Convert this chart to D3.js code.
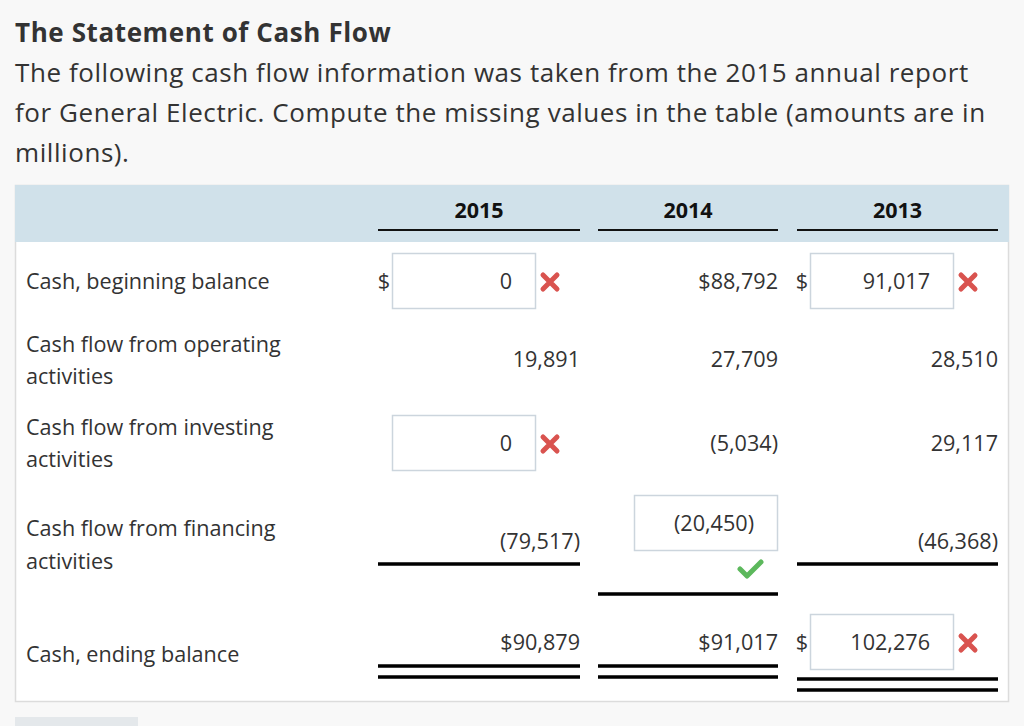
<!DOCTYPE html>
<html>
<head>
<meta charset="utf-8">
<script src="https://cdn.jsdelivr.net/npm/d3@7"></script>
<style>
  html, body { margin: 0; padding: 0; background: #f8f8f8; }
  svg { display: block; }
  text { font-family: "Open Sans", "Noto Sans", sans-serif; }
</style>
</head>
<body>
<svg id="chart" width="1024" height="726"></svg>
<script>
// ---- data ----
const title = "The Statement of Cash Flow";
const introLines = [
  "The following cash flow information was taken from the 2015 annual report",
  "for General Electric. Compute the missing values in the table (amounts are in",
  "millions)."
];
const years = ["2015", "2014", "2013"];
const rowLabels = [
  ["Cash, beginning balance"],
  ["Cash flow from operating", "activities"],
  ["Cash flow from investing", "activities"],
  ["Cash flow from financing", "activities"],
  ["Cash, ending balance"]
];
const values2015 = [0, 19891, 0, -79517, 90879];
const values2014 = [88792, 27709, -5034, -20450, 91017];
const values2013 = [91017, 28510, 29117, -46368, 102276];
// "" = given value, "wrong" = input box marked wrong, "right" = input box marked right
const status2015 = ["wrong", "", "wrong", "", ""];
const status2014 = ["", "", "", "right", ""];
const status2013 = ["wrong", "", "", "", "wrong"];
const dollarRows = [0, 4];

// ---- layout ----
const svg = d3.select("#chart");
const W = 1024, H = 726;
const TXT = "#333";
const CELL_FS = 21.6;

const colLeft = d3.scaleOrdinal().domain(years).range([378, 598, 797]);
const colRight = d3.scaleOrdinal().domain(years).range([580, 778, 998]);
const rowY = d3.scaleOrdinal().domain(d3.range(5)).range([281, 359, 443, 541, 642]);
const labelY = d3.scaleOrdinal().domain(d3.range(5)).range([[281], [344, 376], [427, 459], [528, 561], [654]]);

const valuesByYear = { "2015": values2015, "2014": values2014, "2013": values2013 };
const statusByYear = { "2015": status2015, "2014": status2014, "2013": status2013 };

const fmtNum = d3.format(",");
function fmt(v, row, boxed) {
  const s = fmtNum(Math.abs(v));
  if (v < 0) return "(" + s + ")";
  if (!boxed && dollarRows.includes(row)) return "$" + s;
  return s;
}

// background
svg.append("rect").attr("width", W).attr("height", H).attr("fill", "#f8f8f8");

// title + intro
svg.append("text").attr("x", 15).attr("y", 41.5)
  .attr("font-size", 26).attr("font-weight", 700).attr("fill", TXT)
  .attr("letter-spacing", 0.6)
  .text(title);
svg.selectAll("text.intro").data(introLines).join("text")
  .attr("class", "intro")
  .attr("x", 15).attr("y", (d, i) => 81.5 + i * 40)
  .attr("font-size", 26).attr("fill", TXT)
  .attr("letter-spacing", 0.57)
  .text(d => d);

// panel
svg.append("rect").attr("x", 15.5).attr("y", 185.5).attr("width", 993).attr("height", 516)
  .attr("fill", "#fff").attr("stroke", "#dcdcdc").attr("stroke-width", 1.5);
svg.append("rect").attr("x", 15).attr("y", 185).attr("width", 994).attr("height", 57)
  .attr("fill", "#d0e1ea");

// header years + underlines
const head = svg.append("g");
head.selectAll("text").data(years).join("text")
  .attr("x", d => (colLeft(d) + colRight(d)) / 2)
  .attr("y", 218)
  .attr("text-anchor", "middle")
  .attr("font-size", 21.5).attr("font-weight", 700).attr("fill", "#111")
  .text(d => d);
head.selectAll("line").data(years).join("line")
  .attr("x1", d => colLeft(d)).attr("x2", d => colRight(d))
  .attr("y1", 230).attr("y2", 230)
  .attr("stroke", "#111").attr("stroke-width", 2);

// row labels
rowLabels.forEach((lines, r) => {
  svg.append("g").selectAll("text").data(lines).join("text")
    .attr("x", 26)
    .attr("y", (d, i) => labelY(r)[i] + 7.5)
    .attr("font-size", CELL_FS).attr("fill", TXT)
    .text(d => d);
});

// cells
const BOX_W = 144, BOX_H = 56;
function drawX(g, cx, cy) {
  const s = 7;
  g.append("path")
    .attr("d", `M${cx - s},${cy - s}L${cx + s},${cy + s}M${cx + s},${cy - s}L${cx - s},${cy + s}`)
    .attr("stroke", "#d9534f").attr("stroke-width", 5).attr("stroke-linecap", "round")
    .attr("fill", "none");
}
function drawCheck(g, cx, cy) {
  g.append("path")
    .attr("d", `M${cx - 10},${cy}L${cx - 3},${cy + 7}L${cx + 11},${cy - 7}`)
    .attr("stroke", "#5cb85c").attr("stroke-width", 5).attr("stroke-linecap", "round")
    .attr("stroke-linejoin", "round").attr("fill", "none");
}
function underline(g, y, x1, x2) {
  g.append("rect").attr("x", x1).attr("y", y - 1.75).attr("width", x2 - x1).attr("height", 3.5)
    .attr("fill", "#000");
}

years.forEach(y => {
  const g = svg.append("g");
  const vals = valuesByYear[y];
  const st = statusByYear[y];
  vals.forEach((v, r) => {
    const cy = rowY(r);
    if (st[r] === "") {
      g.append("text")
        .attr("x", colRight(y)).attr("y", cy + 7.5)
        .attr("text-anchor", "end")
        .attr("font-size", CELL_FS).attr("fill", TXT)
        .text(fmt(v, r, false));
    } else {
      const right = st[r] === "right";
      const boxRight = right ? colRight(y) : colRight(y) - 44;
      const boxCy = right ? cy - 18 : cy;
      const boxTop = boxCy - BOX_H / 2;
      g.append("rect")
        .attr("x", boxRight - BOX_W + 0.5).attr("y", boxTop + 0.5)
        .attr("width", BOX_W - 1).attr("height", BOX_H - 1)
        .attr("fill", "#fff").attr("stroke", "#ccd5dd").attr("stroke-width", 1.5);
      g.append("text")
        .attr("x", boxRight - 24).attr("y", boxCy + 7.5)
        .attr("text-anchor", "end")
        .attr("font-size", CELL_FS).attr("fill", TXT)
        .text(fmt(v, r, true));
      if (dollarRows.includes(r)) {
        g.append("text")
          .attr("x", boxRight - BOX_W - 2).attr("y", boxCy + 7.5)
          .attr("text-anchor", "end")
          .attr("font-size", CELL_FS).attr("fill", TXT)
          .text("$");
      }
      if (right) drawCheck(g, boxRight - 28, boxTop + BOX_H + 18);
      else drawX(g, boxRight + 14, boxCy + 1);
    }
  });
  // subtotal single underline under financing row
  const finBoxed = st[3] !== "";
  underline(g, finBoxed ? 594 : 564, colLeft(y), colRight(y));
  // double underline under ending balance
  const endBoxed = st[4] !== "";
  const d1 = endBoxed ? 679 : 666;
  underline(g, d1, colLeft(y), colRight(y));
  underline(g, d1 + 11, colLeft(y), colRight(y));
});

// bottom button stub
svg.append("rect").attr("x", 15).attr("y", 717).attr("width", 123).attr("height", 9)
  .attr("fill", "#e4e8eb");
</script>
</body>
</html>
